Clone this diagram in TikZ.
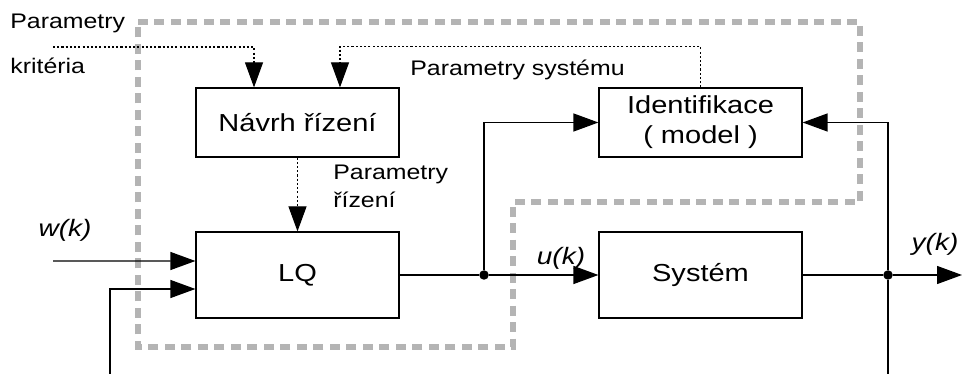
\documentclass[tikz,border=0pt]{standalone}
\usepackage{fontspec}
\setmainfont[FakeStretch=1.18]{Liberation Sans}
\usepackage{tikz}
\usetikzlibrary{arrows.meta}
\definecolor{ramecgray}{RGB}{180,180,180}

\tikzset{
  blok/.style={draw,line width=0.7pt,minimum width=4.06cm,inner sep=0pt,align=center,font=\fontsize{14}{17}\selectfont},
  sig/.style={line width=0.7pt,-{Triangle[length=0.5cm,width=0.36cm]}},
  par/.style={line width=0.6pt,dash pattern=on 1.2pt off 1.2pt,-{Triangle[length=0.5cm,width=0.36cm]}},
  ramec/.style={line width=3pt,draw=ramecgray,dash pattern=on 0.2cm off 0.13cm},
  popis/.style={font=\fontsize{12}{16}\selectfont,inner sep=0pt},
  velicina/.style={font=\fontsize{13.5}{15}\selectfont\itshape,inner sep=0pt},
  uzel/.style={circle,fill,inner sep=0pt,minimum size=0.19cm}
}

\begin{document}
\begin{tikzpicture}[x=0.02cm,y=-0.02cm]
\useasboundingbox (0,0) rectangle (962,374);
% grey dashed frame
\draw[ramec] (138,22) -- (860,22) -- (860,202) -- (513,202) -- (513,347) -- (138,347) -- cycle;
% blocks
\node[blok,minimum height=1.38cm] (navrh) at (297.5,122.5) {Návrh řízení};
\node[blok,minimum height=1.38cm] (ident) at (700.5,122.5) {Identifikace\\( model )};
\node[blok,minimum height=1.72cm] (lq) at (297.5,275) {LQ};
\node[blok,minimum height=1.72cm] (system) at (700.5,275) {Systém};
% branch points and free ends
\node[uzel] (ju) at (484,275) {};
\node[uzel] (jy) at (888,275) {};
\coordinate (win) at (53,261);
\coordinate (fbl) at (110,374);
\coordinate (ybot) at (888,374);
\coordinate (yout) at (962,275);
\coordinate (krit) at (53,47);
% signals
\draw[sig] (win) -- ([yshift=0.28cm]lq.west);
\draw[sig] (fbl) |- ([yshift=-0.28cm]lq.west);
\draw[line width=0.7pt] (lq.east) -- (ju);
\draw[sig] (ju) -- (system.west);
\draw[sig] (ju) |- (ident.west);
\draw[line width=0.7pt] (system.east) -- (jy);
\draw[sig] (jy) -- (yout);
\draw[line width=0.7pt] (ybot) -- (jy);
\draw[sig] (jy) |- (ident.east);
% parameters (dotted)
\draw[par] (krit) -| ([xshift=-0.87cm]navrh.north);
\draw[par] (ident.north) -- ++(0,-41) -| ([xshift=0.85cm]navrh.north);
\draw[par] (navrh.south) -- (lq.north);
% labels
\node[popis,anchor=west] (pk1) at (10,23) {Parametry};
\node[popis,anchor=west] (pk2) at (10,66) {kritéria};
\node[popis,anchor=west] (ps) at (410,70) {Parametry systému};
\node[popis,anchor=north west,align=left] (pr) at (333,165) {Parametry\\řízení};
\node[velicina] (wk) at (65,230) {w(k)};
\node[velicina] (uk) at (561,258) {u(k)};
\node[velicina] (yk) at (935,244) {y(k)};
\end{tikzpicture}
\end{document}
